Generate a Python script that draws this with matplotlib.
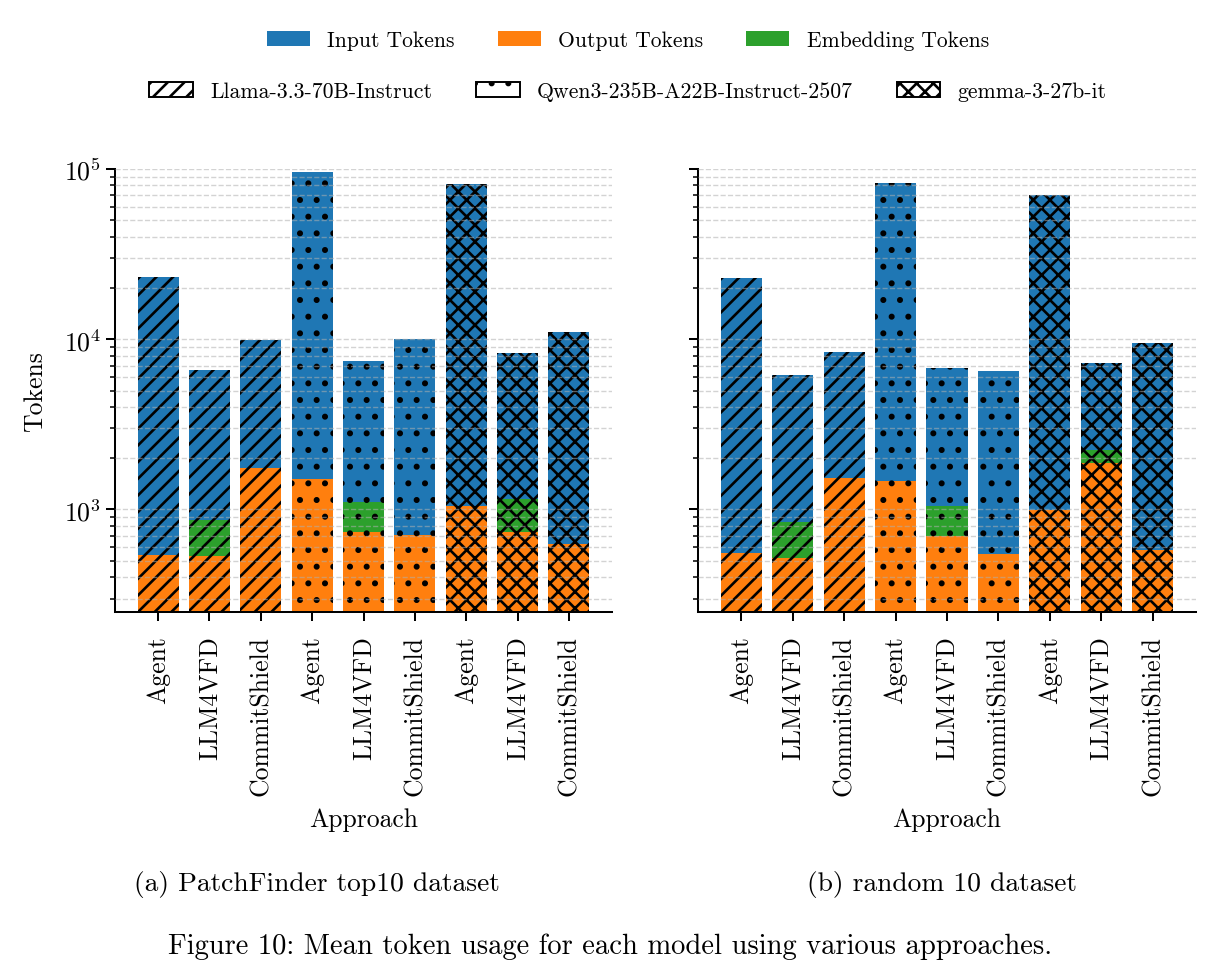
import matplotlib
matplotlib.use("Agg")
import matplotlib.pyplot as plt
from matplotlib.patches import Patch
import numpy as np

plt.rcParams.update({
    "font.family": "serif",
    "font.serif": ["cmr10", "DejaVu Serif"],
    "mathtext.fontset": "cm",
    "axes.formatter.use_mathtext": True,
    "hatch.linewidth": 1.9,
    "axes.linewidth": 1.45,
    "xtick.major.width": 1.45,
    "ytick.major.width": 1.45,
    "ytick.minor.width": 1.1,
    "xtick.major.size": 6.3,
    "ytick.major.size": 6.3,
    "ytick.minor.size": 3.6,
})

# ---------------- data ----------------
approaches = ["Agent", "LLM4VFD", "CommitShield"]
models = ["Llama-3.3-70B-Instruct", "Qwen3-235B-A22B-Instruct-2507", "gemma-3-27b-it"]
model_hatches = ["//", ".", "xx"]
token_types = ["Input Tokens", "Output Tokens", "Embedding Tokens"]
token_colors = ["#1f77b4", "#ff7f0e", "#2ca02c"]

# order: Llama(Agent, LLM4VFD, CommitShield), Qwen(...), gemma(...)
top10_output = [537, 532, 1763, 1520, 733, 705, 1055, 733, 629]
top10_embedding = [0, 334, 0, 0, 371, 0, 0, 412, 0]
top10_input = [22733, 5754, 8167, 94480, 6376, 9365, 80945, 7195, 10441]

random10_output = [552, 522, 1540, 1466, 698, 547, 990, 1870, 582]
random10_embedding = [0, 325, 0, 0, 348, 0, 0, 380, 0]
random10_input = [22408, 5343, 6910, 81334, 5764, 5993, 69410, 5030, 8948]

subcaptions = ["(a) PatchFinder top10 dataset", "(b) random 10 dataset"]
caption = "Figure 10: Mean token usage for each model using various approaches."

# ---------------- figure ----------------
fig = plt.figure(figsize=(12.21, 9.79), dpi=100)
ax1 = fig.add_axes([115 / 1221, 1 - 613 / 979, (612 - 115) / 1221, (613 - 170) / 979])
ax2 = fig.add_axes([698 / 1221, 1 - 613 / 979, (1196 - 698) / 1221, (613 - 170) / 979], sharey=ax1)

labels = approaches * len(models)
hatches = [h for h in model_hatches for _ in approaches]

def draw(ax, out, emb, inp):
    x = np.arange(len(labels))
    out = np.array(out, float)
    emb = np.array(emb, float)
    inp = np.array(inp, float)
    for i in range(len(x)):
        ax.bar(x[i], out[i], width=0.8, color=token_colors[1], hatch=hatches[i],
               edgecolor="black", linewidth=0, zorder=2)
        if emb[i] > 0:
            ax.bar(x[i], emb[i], bottom=out[i], width=0.8, color=token_colors[2],
                   hatch=hatches[i], edgecolor="black", linewidth=0, zorder=2)
        ax.bar(x[i], inp[i], bottom=out[i] + emb[i], width=0.8, color=token_colors[0],
               hatch=hatches[i], edgecolor="black", linewidth=0, zorder=2)
    ax.set_yscale("log")
    ax.set_ylim(250, 1e5)
    ax.set_xticks(x)
    ax.set_xticklabels(labels, rotation=90, fontsize=18.5)
    ax.tick_params(axis="x", pad=10.5)
    ax.set_xlabel("Approach", fontsize=18.5, labelpad=8.5)
    ax.tick_params(axis="y", labelsize=18.5)
    ax.grid(True, which="both", axis="y", linestyle="--", color="#b0b0b0",
            alpha=0.55, linewidth=1.0, zorder=3)
    ax.set_axisbelow(False)
    for s in ["top", "right"]:
        ax.spines[s].set_visible(False)

draw(ax1, top10_output, top10_embedding, top10_input)
draw(ax2, random10_output, random10_embedding, random10_input)
ax1.set_ylabel("Tokens", fontsize=18.5, labelpad=12)
ax2.tick_params(axis="y", which="both", labelleft=False)

# legends
color_handles = [Patch(facecolor=c, label=t) for c, t in zip(token_colors, token_types)]
hatch_handles = [Patch(facecolor="white", edgecolor="black", hatch=h, label=m, linewidth=1.4)
                 for h, m in zip(model_hatches, models)]
leg1 = fig.legend(handles=color_handles, loc="center", ncol=3, frameon=False,
                  fontsize=15.5, bbox_to_anchor=(628 / 1221, 1 - 41 / 979))
leg2 = fig.legend(handles=hatch_handles, loc="center", ncol=3, frameon=False,
                  fontsize=15.7, bbox_to_anchor=(628 / 1221, 1 - 92 / 979))

fig.text(317 / 1221, 1 - 885 / 979, subcaptions[0], ha="center", va="center", fontsize=19.8)
fig.text(942 / 1221, 1 - 885 / 979, subcaptions[1], ha="center", va="center", fontsize=19.8)
fig.text(610 / 1221, 1 - 947 / 979, caption, ha="center", va="center", fontsize=20.6)

fig.savefig("out.png", dpi=100)
